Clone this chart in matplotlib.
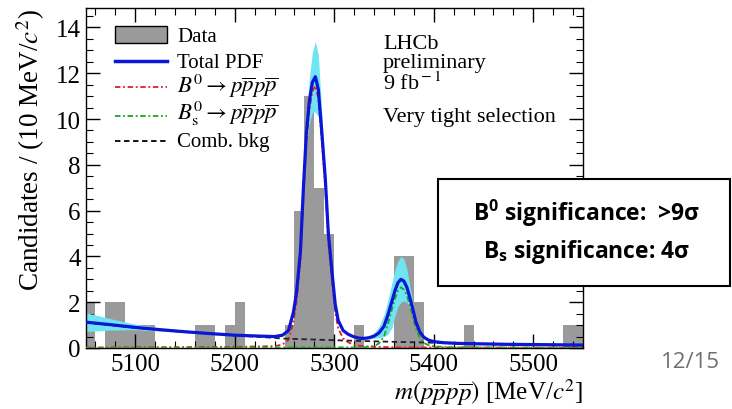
import numpy as np
import matplotlib
matplotlib.use('Agg')
import matplotlib.pyplot as plt
import matplotlib.patches as mpatches
from matplotlib.lines import Line2D
from matplotlib.ticker import MultipleLocator

plt.rcParams['font.family'] = ['Liberation Serif', 'DejaVu Serif']
plt.rcParams['mathtext.fontset'] = 'stix'
plt.rcParams['mathtext.bf'] = 'Open Sans:bold'

# --- data ---
bin_lo = np.arange(5050, 5550, 10)
counts = [2, 0, 2, 2, 1, 1, 1, 0, 0, 0,
          0, 1, 1, 0, 1, 2, 0, 0, 0, 0,
          1, 6, 11, 7, 5, 0, 0, 1, 0, 0,
          0, 4, 4, 2, 0, 0, 0, 0, 1, 0,
          0, 0, 0, 0, 0, 0, 0, 0, 1, 1]

m_fit = [5050, 5075, 5100, 5125, 5150, 5175, 5200, 5225, 5240, 5248,
         5254, 5259, 5262, 5266, 5269, 5272, 5275, 5278, 5281, 5284,
         5287, 5291, 5294, 5298, 5301, 5304, 5309, 5314, 5319, 5325,
         5330, 5335, 5340, 5345, 5350, 5354, 5358, 5361, 5364, 5367,
         5370, 5373, 5376, 5379, 5382, 5386, 5390, 5395, 5400, 5410,
         5425, 5450, 5475, 5500, 5525, 5550]
total = [1.13, 1.02, 0.90, 0.80, 0.71, 0.63, 0.56, 0.52, 0.50, 0.56,
         0.76, 1.57, 2.4, 4.2, 7.0, 9.4, 10.8, 11.6, 11.85, 11.3,
         9.7, 7.4, 5.05, 3.2, 1.9, 1.2, 0.76, 0.6, 0.5, 0.43,
         0.42, 0.45, 0.52, 0.66, 0.95, 1.45, 2.05, 2.5, 2.85, 3.0,
         2.92, 2.65, 2.2, 1.7, 1.15, 0.7, 0.47, 0.34, 0.28, 0.23,
         0.2, 0.18, 0.16, 0.15, 0.14, 0.13]
band_lo = [0.72, 0.78, 0.80, 0.74, 0.67, 0.60, 0.53, 0.50, 0.48, 0.53,
           0.72, 1.5, 2.3, 4.0, 6.6, 8.8, 9.8, 10.3, 10.3, 10.1,
           9.1, 7.1, 4.9, 3.1, 1.85, 1.15, 0.73, 0.57, 0.47, 0.40,
           0.39, 0.40, 0.42, 0.45, 0.5, 0.6, 0.9, 1.4, 1.8, 2.0,
           2.05, 2.0, 1.75, 1.35, 0.95, 0.6, 0.43, 0.31, 0.26, 0.21,
           0.18, 0.16, 0.14, 0.13, 0.12, 0.11]
band_hi = [1.55, 1.28, 1.04, 0.88, 0.76, 0.66, 0.59, 0.54, 0.52, 0.59,
           0.8, 1.65, 2.5, 4.4, 7.4, 10.0, 11.8, 12.9, 13.4, 12.8,
           10.6, 7.8, 5.3, 3.35, 2.0, 1.27, 0.8, 0.63, 0.53, 0.46,
           0.45, 0.5, 0.65, 0.95, 1.45, 2.1, 2.85, 3.4, 3.8, 4.0,
           3.9, 3.45, 2.7, 1.95, 1.3, 0.8, 0.52, 0.37, 0.3, 0.25,
           0.22, 0.2, 0.18, 0.17, 0.16, 0.15]

m_bkg = [5050, 5100, 5150, 5200, 5230, 5250, 5300, 5350, 5400, 5450, 5500, 5550]
bkg = [1.11, 0.88, 0.70, 0.55, 0.47, 0.41, 0.34, 0.28, 0.23, 0.17, 0.13, 0.11]

m_b0 = [5050, 5200, 5240, 5248, 5254, 5259, 5262, 5266, 5269, 5272,
        5275, 5278, 5281, 5284, 5287, 5291, 5294, 5298, 5301, 5304,
        5309, 5314, 5319, 5325, 5335, 5360, 5550]
b0 = [0.02, 0.05, 0.08, 0.15, 0.35, 1.15, 2.0, 3.8, 6.6, 9.0,
      10.4, 11.2, 11.45, 10.9, 9.3, 7.0, 4.65, 2.85, 1.55, 0.85,
      0.42, 0.25, 0.15, 0.1, 0.06, 0.03, 0.01]

m_bs = [5050, 5330, 5340, 5345, 5350, 5354, 5358, 5361, 5364, 5367,
        5370, 5373, 5376, 5379, 5382, 5386, 5390, 5395, 5400, 5420, 5550]
bs = [0.01, 0.03, 0.08, 0.2, 0.5, 1.05, 1.7, 2.15, 2.5, 2.65,
      2.55, 2.3, 1.85, 1.35, 0.85, 0.45, 0.22, 0.12, 0.07, 0.03, 0.01]

legend_labels = ['Data', 'Total PDF', r'$B^0 \rightarrow p\overline{p}p\overline{p}$',
                 r'$B^0_{\rm s} \rightarrow p\overline{p}p\overline{p}$', 'Comb. bkg']
info_lines = ['LHCb', 'preliminary', r'9 fb$^{\rm -1}$', 'Very tight selection']
box_lines = [r'B$^{\mathbf{0}}$ significance:  >9σ', r'B$_{\mathbf{s}}$ significance: 4σ']

gray = '#9a9a9a'
blue = '#0b16d6'
cyan = '#6fe4f2'
red = '#e02020'
green = '#1fa51f'
dashdot = (3, 1.5, 1, 1.5)

fig = plt.figure(figsize=(7.32, 4.10), dpi=100)
W, H = 732, 410
ax = fig.add_axes([85.5 / W, 1 - 349 / H, (583 - 85.5) / W, (349 - 9) / H])

ax.bar(bin_lo, counts, width=10, align='edge', color=gray, linewidth=0, zorder=1)
ax.fill_between(m_fit, band_lo, band_hi, color=cyan, linewidth=0, zorder=2)
ax.plot(m_b0, b0, color=red, lw=1.3, dashes=dashdot, zorder=3)
ax.plot(m_bs, bs, color=green, lw=1.3, dashes=dashdot, zorder=3)
ax.plot(m_bkg, bkg, color='#222222', lw=1.3, dashes=(3, 2), zorder=3)
ax.plot(m_fit, total, color=blue, lw=2.3, zorder=4)

ax.set_xlim(5050, 5550)
ax.set_ylim(0, 14.85)
ax.xaxis.set_major_locator(MultipleLocator(100))
ax.xaxis.set_minor_locator(MultipleLocator(20))
ax.yaxis.set_major_locator(MultipleLocator(2))
ax.yaxis.set_minor_locator(MultipleLocator(0.5))
ax.tick_params(which='both', direction='in', top=True, right=True, labelsize=18)
ax.tick_params(which='major', length=10, width=1)
ax.tick_params(which='minor', length=5, width=0.8)
for s in ax.spines.values():
    s.set_linewidth(1)

ax.set_ylabel(r'Candidates / (10 MeV/$c^2$)', fontsize=19.5, loc='top', labelpad=6)
ax.set_xlabel(r'$m(p\overline{p}p\overline{p})$ [MeV/$c^2$]', fontsize=18, loc='right', labelpad=1)

# --- legend, laid out by hand in figure pixels ---
def fx(px):
    return px / W

def fy(py):
    return 1 - py / H

fig.patches.append(mpatches.Rectangle((fx(115), fy(44)), (167 - 115) / W, 17 / H,
                                      transform=fig.transFigure, facecolor=gray,
                                      edgecolor='black', linewidth=1))
styles = [dict(color=blue, lw=2.5), dict(color=red, lw=1.3, dashes=dashdot),
          dict(color=green, lw=1.3, dashes=dashdot), dict(color='black', lw=1.3, dashes=(3, 2))]
for st, yl in zip(styles, [61.5, 88, 116.5, 141.5]):
    fig.add_artist(Line2D([fx(115), fx(167)], [fy(yl), fy(yl)], transform=fig.transFigure, **st))
for lab, yb in zip(legend_labels, [41.5, 68, 93.5, 120.5, 146.5]):
    fs = 16.5 if lab.startswith('$') else 15
    fig.text(fx(177), fy(yb), lab, fontsize=fs, va='baseline', ha='left')

for txt, yb in zip(info_lines, [49, 68, 90, 122]):
    fig.text(fx(383), fy(yb), txt, fontsize=16, va='baseline', ha='left')

fig.text(fx(690), fy(363), '12/15', fontsize=16, color='#6f6f6f',
         family=['Open Sans', 'DejaVu Sans'], ha='center', va='center')

box = mpatches.Rectangle((fx(438), fy(287)), (730 - 438) / W, (287 - 180) / H,
                         transform=fig.transFigure, facecolor='white',
                         edgecolor='black', linewidth=1.5, zorder=10)
fig.patches.append(box)
for txt, yc in zip(box_lines, [213, 252]):
    fig.text(fx(587), fy(yc), txt, fontsize=16.5, fontweight='bold',
             family=['Open Sans', 'DejaVu Sans'], math_fontfamily='custom',
             ha='center', va='center', zorder=11)

fig.savefig('out.png', dpi=100)
